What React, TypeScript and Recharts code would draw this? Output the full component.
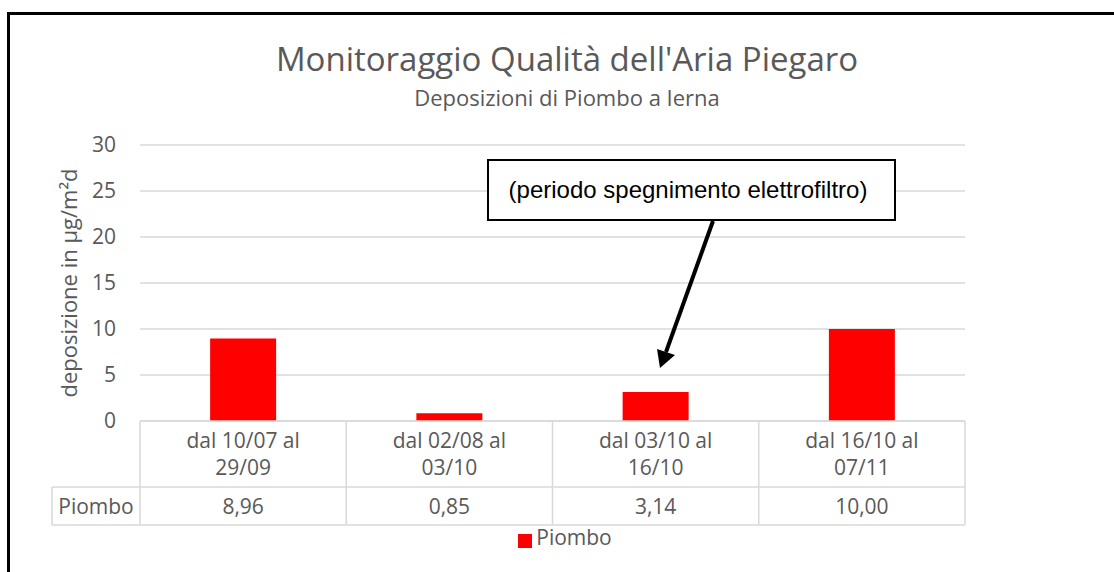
import React from 'react';
import { BarChart, Bar, XAxis, YAxis, CartesianGrid, Legend, Label } from 'recharts';

const CATEGORIES = ['dal 10/07 al 29/09', 'dal 02/08 al 03/10', 'dal 03/10 al 16/10', 'dal 16/10 al 07/11'];
const PIOMBO = [8.96, 0.85, 3.14, 10.0];
const Y_TICKS = [0, 5, 10, 15, 20, 25, 30];

const SERIES_NAME = 'Piombo';
const TITLE = "Monitoraggio Qualità dell'Aria Piegaro";
const SUBTITLE = 'Deposizioni di Piombo a Ierna';
const Y_LABEL = 'deposizione in µg/m²d';
const NOTE = '(periodo spegnimento elettrofiltro)';

const data = CATEGORIES.map((name, i) => ({ name, value: PIOMBO[i] }));

const GRID = '#d9d9d9';
const TEXT = '#595959';
const FONT = '"Open Sans", sans-serif';

const ROW1 = 66;
const ROW2 = 104;
const HEADER_LEFT = 52;

const fmt = (v: number) => v.toFixed(2).replace('.', ',');

const TableTick = (props: any) => {
  const { x, y, payload, index, width, visibleTicksCount } = props;
  const band = width && visibleTicksCount ? width / visibleTicksCount : 206.25;
  const half = band / 2;
  const label: string = payload.value;
  const cut = label.lastIndexOf(' ');
  const line1 = label.slice(0, cut);
  const line2 = label.slice(cut + 1);
  const left = x - half;
  const right = x + half;
  return (
    <g>
      {index === 0 && (
        <>
          <line x1={left} y1={y} x2={left} y2={y + ROW2} stroke={GRID} strokeWidth={1.5} />
          <line x1={HEADER_LEFT} y1={y + ROW1} x2={left} y2={y + ROW1} stroke={GRID} strokeWidth={1.5} />
          <line x1={HEADER_LEFT} y1={y + ROW2} x2={left} y2={y + ROW2} stroke={GRID} strokeWidth={1.5} />
          <line x1={HEADER_LEFT} y1={y + ROW1} x2={HEADER_LEFT} y2={y + ROW2} stroke={GRID} strokeWidth={1.5} />
          <text x={(HEADER_LEFT + left) / 2} y={y + 93} textAnchor="middle" fill={TEXT} fontSize={21}>
            {SERIES_NAME}
          </text>
        </>
      )}
      <line x1={right} y1={y} x2={right} y2={y + ROW2} stroke={GRID} strokeWidth={1.5} />
      <line x1={left} y1={y + ROW1} x2={right} y2={y + ROW1} stroke={GRID} strokeWidth={1.5} />
      <line x1={left} y1={y + ROW2} x2={right} y2={y + ROW2} stroke={GRID} strokeWidth={1.5} />
      <text x={x} y={y + 27} textAnchor="middle" fill={TEXT} fontSize={21}>
        {line1}
      </text>
      <text x={x} y={y + 54} textAnchor="middle" fill={TEXT} fontSize={21}>
        {line2}
      </text>
      <text x={x} y={y + 93} textAnchor="middle" fill={TEXT} fontSize={21}>
        {fmt(PIOMBO[index])}
      </text>
    </g>
  );
};

export default function App() {
  return (
    <div
      style={{
        position: 'fixed',
        left: 0,
        top: 0,
        width: 1114,
        height: 572,
        overflow: 'hidden',
        background: '#fff',
        fontFamily: FONT,
      }}
    >
      <div
        style={{
          position: 'absolute',
          left: 7,
          top: 12,
          width: 1140,
          height: 600,
          border: '3px solid #000',
        }}
      />
      <div style={{ position: 'absolute', left: 0, top: 0 }}>
        <BarChart
          width={1114}
          height={572}
          data={data}
          margin={{ top: 145, right: 149, left: 50, bottom: 22 }}
          barCategoryGap="34%"
        >
          <CartesianGrid vertical={false} stroke={GRID} strokeWidth={1.5} />
          <XAxis
            dataKey="name"
            height={104}
            interval={0}
            tickLine={false}
            tickSize={0}
            tickMargin={0}
            axisLine={{ stroke: GRID, strokeWidth: 1.5 }}
            tick={<TableTick />}
          />
          <YAxis
            width={90}
            domain={[0, 30]}
            ticks={Y_TICKS}
            axisLine={false}
            tickLine={false}
            tickMargin={18}
            tick={{ fill: TEXT, fontSize: 21 }}
          >
            <Label
              value={Y_LABEL}
              angle={-90}
              position="insideLeft"
              offset={19}
              fill={TEXT}
              fontSize={22}
              style={{ textAnchor: 'middle' }}
            />
          </YAxis>
          <Legend
            verticalAlign="bottom"
            iconType="square"
            iconSize={14}
            wrapperStyle={{ height: 25, lineHeight: '25px', left: 13, width: 1114 }}
            formatter={(v) => <span style={{ color: TEXT, fontSize: 21 }}>{v}</span>}
          />
          <Bar dataKey="value" name={SERIES_NAME} fill="#ff0000" isAnimationActive={false} />
        </BarChart>
      </div>
      <svg
        width={1114}
        height={572}
        style={{ position: 'absolute', left: 0, top: 0, pointerEvents: 'none' }}
      >
        <text x={567} y={71} textAnchor="middle" fill={TEXT} fontSize={33} fontFamily={FONT}>
          {TITLE}
        </text>
        <text x={567} y={106} textAnchor="middle" fill={TEXT} fontSize={22} fontFamily={FONT}>
          {SUBTITLE}
        </text>
        <rect x={488} y={160} width={407} height={60} fill="#fff" stroke="#000" strokeWidth={2} />
        <text
          x={688}
          y={198}
          textAnchor="middle"
          fill="#000"
          fontSize={24}
          fontFamily='"Liberation Sans", Arial, sans-serif'
        >
          {NOTE}
        </text>
        <line x1={713} y1={221} x2={666} y2={352} stroke="#000" strokeWidth={4} />
        <polygon points="660,368 657,349 675,355" fill="#000" />
      </svg>
    </div>
  );
}
